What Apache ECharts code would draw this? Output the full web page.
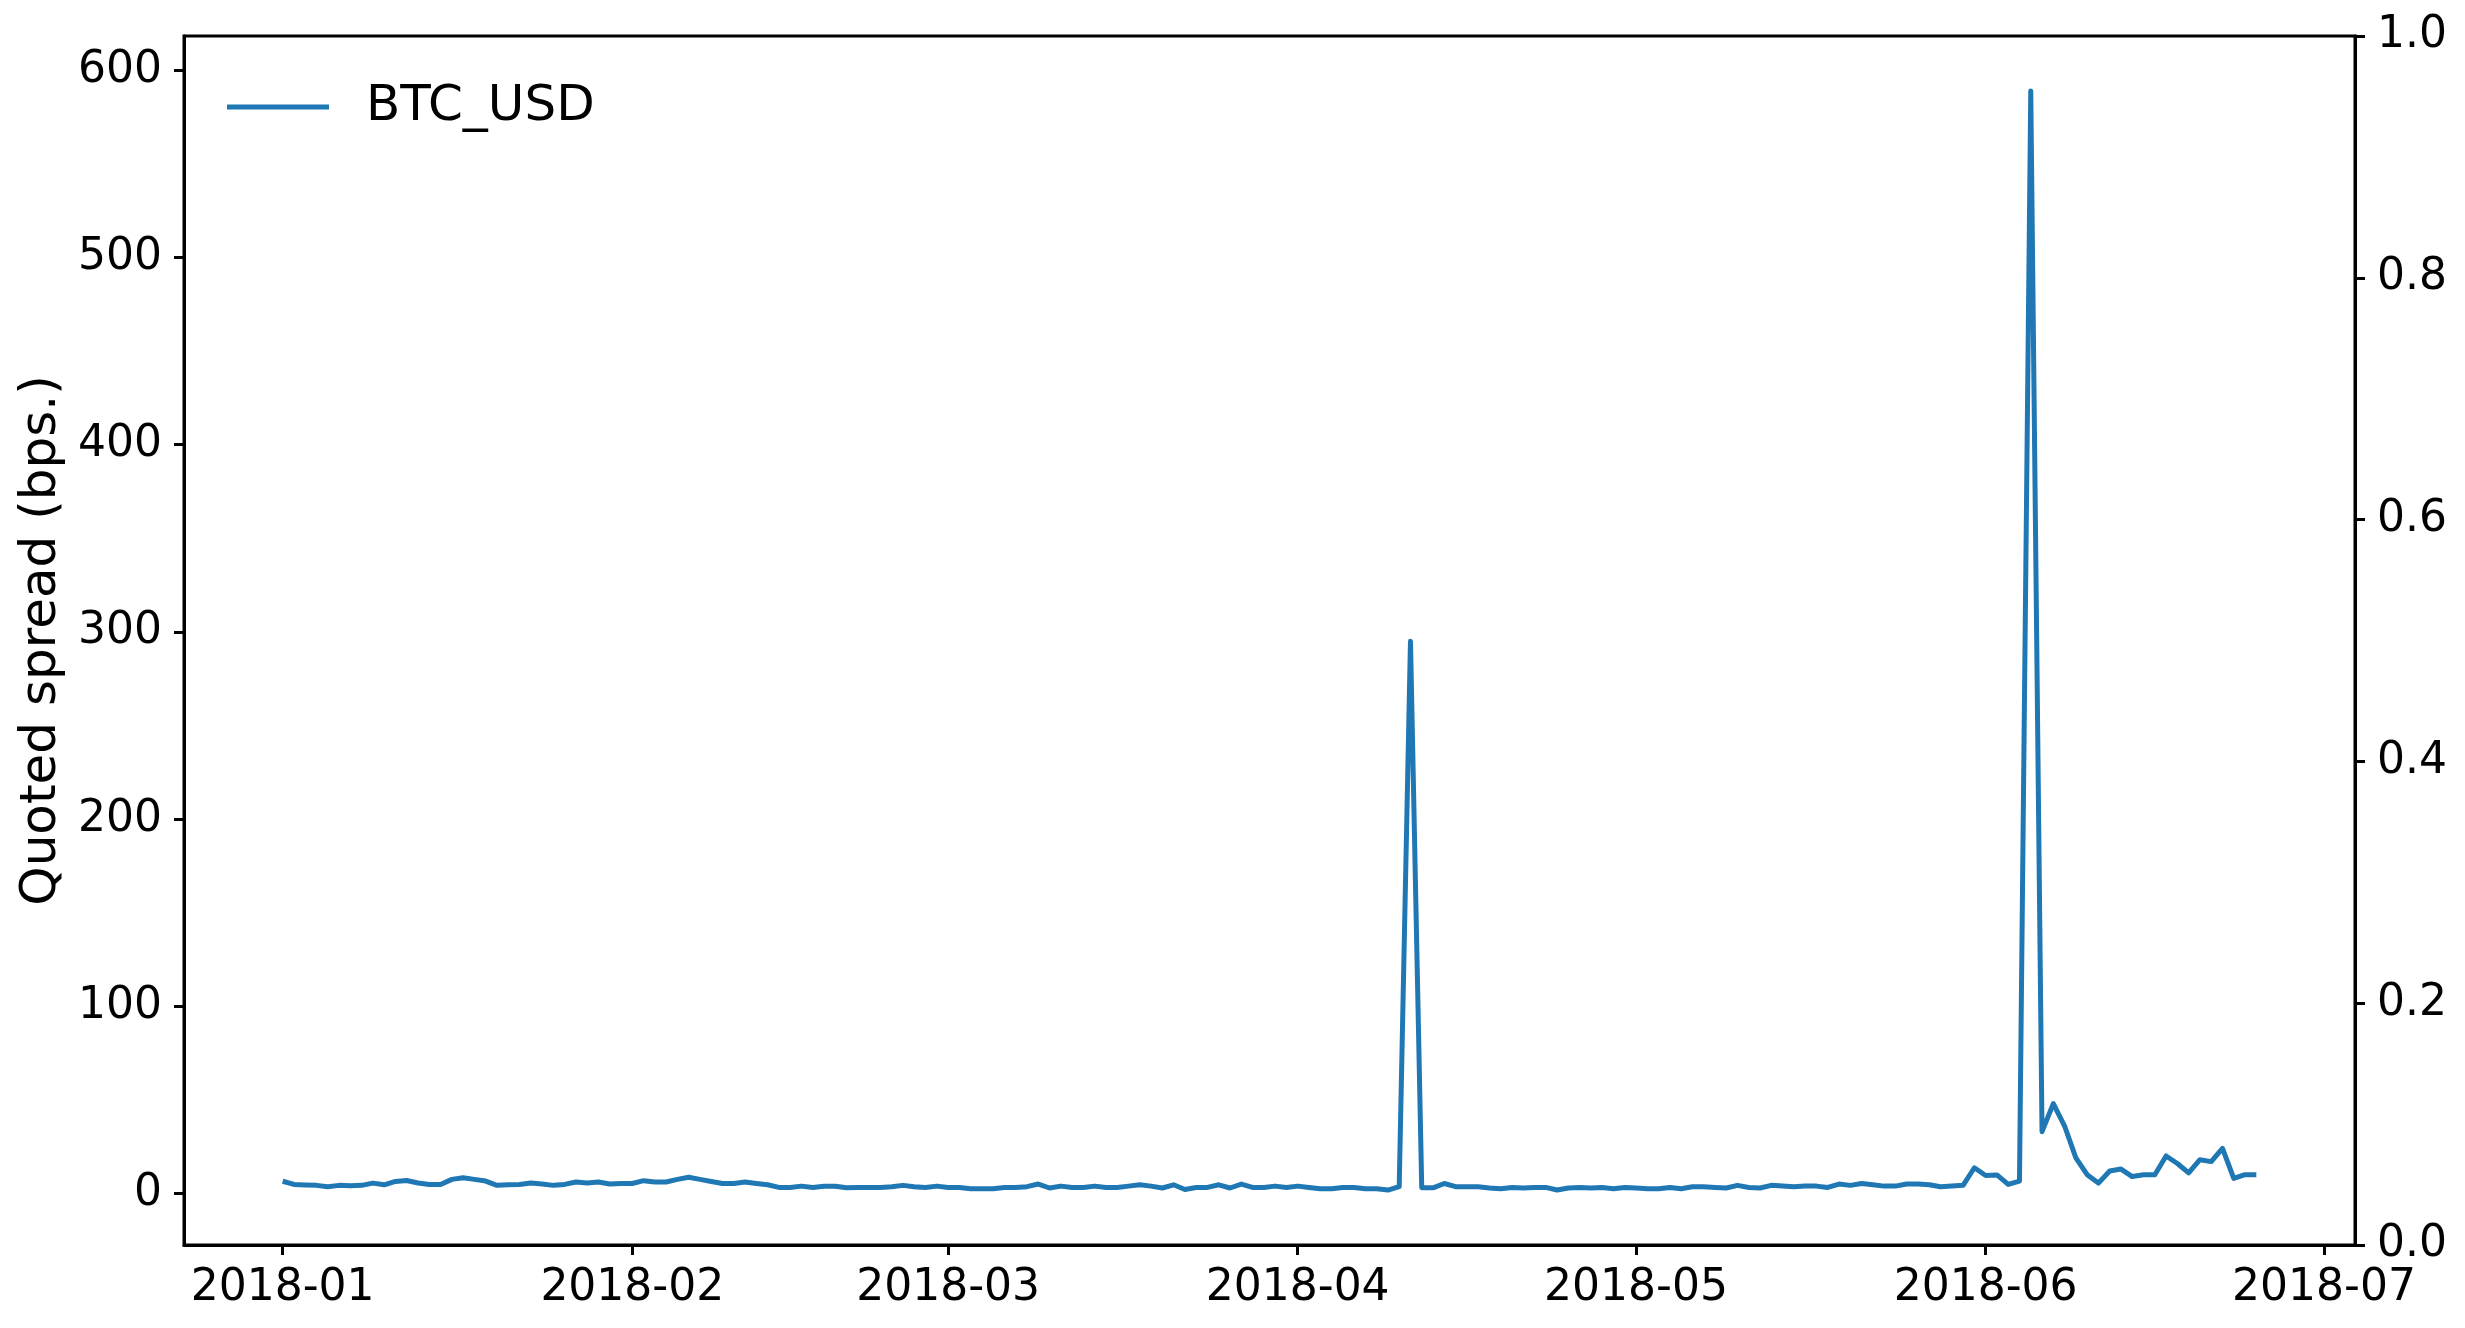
<!DOCTYPE html>
<html>
<head>
<meta charset="utf-8">
<script src="https://cdn.jsdelivr.net/npm/echarts@6/dist/echarts.min.js"></script>
<style>
  html, body { margin: 0; padding: 0; background: #fff; }
  #chart { width: 2465px; height: 1328px; }
</style>
</head>
<body>
<div id="chart"></div>
<script>
// ---- data ----
const seriesName = 'BTC_USD';
const startDate = [2018, 0, 1]; // daily observations starting 2018-01-01
const spreadValues = [
  6.5, 4.8, 4.5, 4.3, 3.6, 4.3, 4.1, 4.3, 5.5, 4.6,
  6.4, 6.9, 5.6, 4.8, 4.8, 7.5, 8.4, 7.5, 6.6, 4.3,
  4.6, 4.8, 5.6, 5.0, 4.3, 4.8, 6.1, 5.6, 6.1, 5.0,
  5.3, 5.3, 6.8, 6.1, 6.1, 7.5, 8.6, 7.5, 6.4, 5.3,
  5.3, 6.1, 5.3, 4.6, 3.2, 3.2, 3.9, 3.2, 3.8, 3.8,
  3.0, 3.2, 3.1, 3.2, 3.6, 4.3, 3.6, 3.2, 3.9, 3.2,
  3.2, 2.5, 2.5, 2.5, 3.2, 3.2, 3.6, 5.0, 2.9, 3.9,
  3.2, 3.2, 3.9, 3.2, 3.2, 3.9, 4.6, 3.9, 2.9, 4.6,
  2.1, 3.2, 3.2, 4.6, 2.9, 5.0, 3.2, 3.2, 3.9, 3.2,
  3.9, 3.2, 2.5, 2.5, 3.2, 3.2, 2.5, 2.5, 1.8, 3.6,
  295, 3.0, 3.0, 5.3, 3.6, 3.6, 3.6, 2.9, 2.5, 3.2,
  2.9, 3.2, 3.2, 1.8, 2.9, 3.2, 2.9, 3.2, 2.5, 3.2,
  2.9, 2.5, 2.5, 3.2, 2.5, 3.6, 3.6, 3.2, 2.9, 4.3,
  3.2, 2.9, 4.3, 3.9, 3.6, 3.9, 3.9, 3.2, 5.0, 4.3,
  5.3, 4.6, 3.9, 3.9, 5.0, 5.0, 4.6, 3.6, 3.9, 4.3,
  13.7, 9.6, 9.9, 4.8, 6.6, 589, 33, 48, 36, 19,
  10, 5.5, 12, 13, 9, 10, 10, 20, 16, 11,
  18, 17, 24, 8, 10, 10
];
const monthTicks = ['2018-01-01','2018-02-01','2018-03-01','2018-04-01','2018-05-01','2018-06-01','2018-07-01'];
const leftTicks = [0, 100, 200, 300, 400, 500, 600];
const rightTicks = [0.0, 0.2, 0.4, 0.6, 0.8, 1.0];
const yTitle = 'Quoted spread (bps.)';

// ---- build ----
const toTs = (y, m, d) => Date.UTC(y, m, d);
const t0 = toTs(startDate[0], startDate[1], startDate[2]);
const points = spreadValues.map((v, i) => [toTs(startDate[0], startDate[1], startDate[2] + i), v]);
const tLast = points[points.length - 1][0];
const xPad = (tLast - t0) * 0.05;
const vMin = Math.min(...spreadValues), vMax = Math.max(...spreadValues);
const yPad = (vMax - vMin) * 0.05;
const monthTs = monthTicks.map(s => { const p = s.split('-').map(Number); return toTs(p[0], p[1] - 1, p[2]); });
const fmtMonth = v => { const d = new Date(v); return d.getUTCFullYear() + '-' + String(d.getUTCMonth() + 1).padStart(2, '0'); };

const FONT = 'DejaVu Sans';
const FS = 44;     // tick labels
const FS_BIG = 50; // axis title, legend
const tick = { show: true, length: 10, lineStyle: { color: '#000', width: 3 } };
const line = { show: true, onZero: false, lineStyle: { color: '#000', width: 3 } };
const chart = echarts.init(document.getElementById('chart'), null, { renderer: 'canvas' });
chart.setOption({
  animation: false,
  backgroundColor: '#ffffff',
  grid: { left: 184, right: 110, top: 36, bottom: 83, show: true, borderColor: '#000', borderWidth: 3 },
  legend: {
    left: 222, top: 77,
    icon: 'rect', itemWidth: 102, itemHeight: 5,
    data: [seriesName],
    textStyle: { fontFamily: FONT, fontSize: FS_BIG, color: '#000', padding: [0, 0, 0, 32] }
  },
  xAxis: {
    type: 'value',
    min: t0 - xPad, max: tLast + xPad,
    splitLine: { show: false },
    axisLine: line,
    axisTick: Object.assign({}, tick, { customValues: monthTs }),
    axisLabel: { customValues: monthTs, margin: 22, fontFamily: FONT, fontSize: FS, color: '#000', formatter: fmtMonth }
  },
  yAxis: [
    {
      type: 'value', position: 'left',
      min: vMin - yPad, max: vMax + yPad,
      name: yTitle, nameLocation: 'middle', nameGap: 112, nameRotate: 90,
      nameTextStyle: { fontFamily: FONT, fontSize: FS_BIG, color: '#000' },
      splitLine: { show: false },
      axisLine: line,
      axisTick: Object.assign({}, tick, { customValues: leftTicks }),
      axisLabel: { customValues: leftTicks, margin: 22, padding: [16, 0, 0, 0], fontFamily: FONT, fontSize: FS, color: '#000' }
    },
    {
      type: 'value', position: 'right',
      min: 0, max: 1,
      splitLine: { show: false },
      axisLine: line,
      axisTick: Object.assign({}, tick, { customValues: rightTicks }),
      axisLabel: { customValues: rightTicks, margin: 22, padding: [16, 0, 0, 0], fontFamily: FONT, fontSize: FS, color: '#000', formatter: v => v.toFixed(1) }
    }
  ],
  series: [{
    name: seriesName,
    type: 'line',
    yAxisIndex: 0,
    data: points,
    symbol: 'none',
    itemStyle: { color: '#1f77b4' },
    lineStyle: { color: '#1f77b4', width: 5, join: 'round' }
  }]
});
</script>
</body>
</html>
